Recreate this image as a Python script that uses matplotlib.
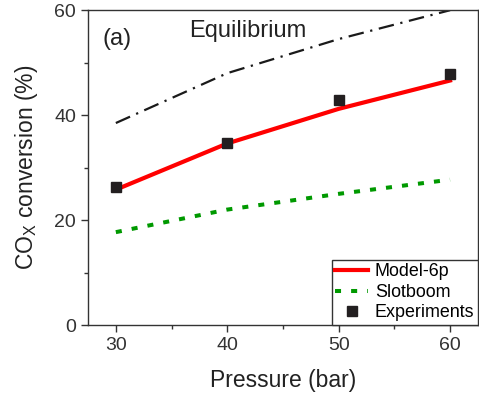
import matplotlib.pyplot as plt

plt.rcParams['font.family'] = ['Liberation Sans', 'DejaVu Sans']

pressure = [30, 40, 50, 60]
equilibrium = [38.5, 48.0, 54.5, 60.0]
model_6p = [25.8, 34.6, 41.2, 46.6]
slotboom = [17.7, 22.0, 25.0, 27.7]
experiments = [26.3, 34.6, 42.8, 47.9]

fig = plt.figure(figsize=(4.79, 4.01), dpi=100)
ax = fig.add_axes([0.1837, 0.1895, 0.814, 0.785])

ax.plot(pressure, equilibrium, color='#1a1a1a', linestyle=(0, (7, 3, 1, 3)), linewidth=1.6)
ax.plot(pressure, model_6p, color='red', linewidth=3, label='Model-6p')
ax.plot(pressure, slotboom, color='#009900', linestyle=(0, (1.5, 2.5)), linewidth=2.9, label='Slotboom')
ax.plot(pressure, experiments, 's', color='#231f20', markersize=6.5, linestyle='none', label='Experiments')

ax.set_xlim(27.5, 62.5)
ax.set_ylim(0, 60)
ax.set_xticks([30, 40, 50, 60])
ax.set_xticks([35, 45, 55], minor=True)
ax.set_yticks([0, 20, 40, 60])
ax.set_yticks([10, 30, 50], minor=True)
ax.tick_params(axis='both', which='major', labelsize=14, direction='out', length=5, width=1, colors='#333333')
ax.tick_params(axis='both', which='minor', direction='out', length=3, width=1, colors='#333333')
for s in ax.spines.values():
    s.set_color('#333333')
    s.set_linewidth(1)

ax.set_xlabel('Pressure (bar)', fontsize=16.5, color='#222222', labelpad=11)
ax.set_ylabel('CO$_\\mathregular{X}$ conversion (%)', fontsize=16.5, color='#222222', labelpad=10)

ax.text(0.038, 0.91, '(a)', transform=ax.transAxes, fontsize=17, va='center', color='#222222')
ax.text(0.26, 0.935, 'Equilibrium', transform=ax.transAxes, fontsize=17, va='center', color='#222222')

leg = ax.legend(loc='lower right', fontsize=12.9, borderaxespad=0, fancybox=False,
                edgecolor='#333333', framealpha=1, handlelength=1.8, handletextpad=0.4,
                labelspacing=0.2, borderpad=0.2)
leg.get_frame().set_linewidth(1)

plt.savefig('out.png', dpi=100)
